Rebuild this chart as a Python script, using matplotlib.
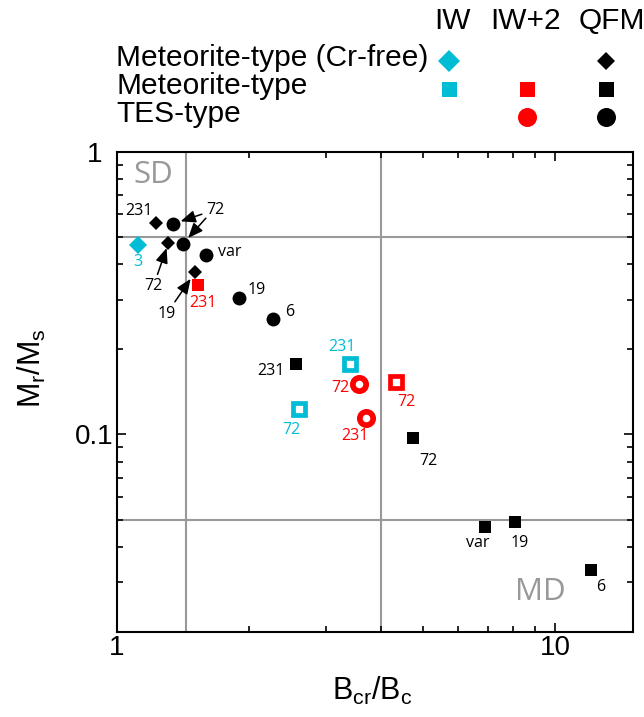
import numpy as np
import matplotlib
matplotlib.use("Agg")
import matplotlib.pyplot as plt

# ---- data ----
# Meteorite-type, Cr-free, IW  (cyan diamond)
crfree_iw_x = [1.12]
crfree_iw_y = [0.466]
crfree_iw_lab = ["3"]
# Meteorite-type, Cr-free, QFM  (black diamonds)
crfree_qfm_x = [1.228, 1.31, 1.507]
crfree_qfm_y = [0.559, 0.475, 0.374]
crfree_qfm_lab = ["231", "72", "19"]
# Meteorite-type, IW+2  (red squares)
met_iw2_x = [1.533]
met_iw2_y = [0.338]
met_iw2_lab = ["231"]
# Meteorite-type, QFM  (black squares)
met_qfm_x = [2.56, 4.74, 6.90, 8.08, 12.08]
met_qfm_y = [0.178, 0.0968, 0.0469, 0.0488, 0.0332]
met_qfm_lab = ["231", "72", "var", "19", "6"]
# TES-type, QFM  (black circles)
tes_qfm_x = [1.345, 1.413, 1.60, 1.90, 2.27]
tes_qfm_y = [0.556, 0.471, 0.432, 0.304, 0.257]
tes_qfm_lab = ["72", "72", "var", "19", "6"]
# open symbols
open_iw_x = [3.40, 2.60]
open_iw_y = [0.178, 0.1225]
open_iw_lab = ["231", "72"]
open_iw2_sq_x = [4.34]
open_iw2_sq_y = [0.153]
open_iw2_sq_lab = ["72"]
open_iw2_ci_x = [3.57, 3.69]
open_iw2_ci_y = [0.151, 0.1145]
open_iw2_ci_lab = ["72", "231"]

# Day-plot domain boundaries
bcr_lines = [1.44, 4.0]
mr_lines = [0.5, 0.05]

legend_cols = ["IW", "IW+2", "QFM"]
legend_rows = ["Meteorite-type (Cr-free)", "Meteorite-type", "TES-type"]

# ---- style ----
CYAN = "#00BCD4"
RED = "#FF0000"
GRAY = "#999999"
SANS = "Liberation Sans"
LABF = "Open Sans"

plt.rcParams["font.family"] = SANS
plt.rcParams["mathtext.fontset"] = "custom"
plt.rcParams["mathtext.rm"] = SANS
plt.rcParams["mathtext.default"] = "regular"

fig = plt.figure(figsize=(6.44, 7.17), dpi=100)
ax = fig.add_axes([116.9 / 644, 1 - 632 / 717, 515.8 / 644, 480.3 / 717])
ax.set_xscale("log")
ax.set_yscale("log")
ax.set_xlim(1, 15)
ax.set_ylim(0.02, 1)

for v in bcr_lines:
    ax.axvline(v, color=GRAY, lw=1.5, zorder=1)
for h in mr_lines:
    ax.axhline(h, color=GRAY, lw=1.5, zorder=1)

ax.plot(crfree_iw_x, crfree_iw_y, "D", color=CYAN, ms=8.8, mew=0, zorder=3)
ax.plot(crfree_qfm_x, crfree_qfm_y, "D", color="k", ms=6.9, mew=0, zorder=3)
ax.plot(met_iw2_x, met_iw2_y, "s", color=RED, ms=9.1, mew=0, zorder=3)
ax.plot(met_qfm_x, met_qfm_y, "s", color="k", ms=8.8, mew=0, zorder=3)
ax.plot(tes_qfm_x, tes_qfm_y, "o", color="k", ms=10, mew=0, zorder=3)
ax.plot(open_iw_x, open_iw_y, "s", mfc="white", mec=CYAN, ms=8, mew=3.4, zorder=3)
ax.plot(open_iw2_sq_x, open_iw2_sq_y, "s", mfc="white", mec=RED, ms=8, mew=3.4, zorder=3)
ax.plot(open_iw2_ci_x, open_iw2_ci_y, "o", mfc="white", mec=RED, ms=9.6, mew=4.1, zorder=3)

# label offsets in pixels (right, down) from each point
# arrows: (series, index) -> (shrinkB, show text)
ARROWS = {("tes", 0): (5.5, True), ("tes", 1): (5.9, False),
          ("crq", 1): (3.8, True), ("crq", 2): (5.6, True)}


def put_labels(key, xs, ys, labs, offs, color):
    for i, (x, y, t, (dx, dy)) in enumerate(zip(xs, ys, labs, offs)):
        kw = {}
        if (key, i) in ARROWS:
            shrink, show = ARROWS[(key, i)]
            kw["arrowprops"] = dict(arrowstyle="-|>,head_length=0.6,head_width=0.25",
                                    color="k", lw=1.1, shrinkA=1, shrinkB=shrink,
                                    mutation_scale=15)
            if not show:
                t = ""
        ax.annotate(t, (x, y), xytext=(dx * 0.72, -dy * 0.72), textcoords="offset points",
                    ha="center", va="center", color=color, fontsize=11.5,
                    family=LABF, zorder=4, **kw)


put_labels("cri", crfree_iw_x, crfree_iw_y, crfree_iw_lab, [(-1, 17)], CYAN)
put_labels("crq", crfree_qfm_x, crfree_qfm_y, crfree_qfm_lab,
           [(-16.7, -12.6), (-15, 43.4), (-28.3, 41.3)], "k")
put_labels("mi2", met_iw2_x, met_iw2_y, met_iw2_lab, [(4.4, 17.7)], RED)
put_labels("mq", met_qfm_x, met_qfm_y, met_qfm_lab,
           [(-25, 7.4), (15, 22.7), (-6.7, 15.7), (5, 20.7), (9.3, 17.6)], "k")
put_labels("tes", tes_qfm_x, tes_qfm_y, tes_qfm_lab,
           [(41.7, -14), (24, -27), (23.3, -2.3), (17.4, -8.3), (16.7, -6.7)], "k")
put_labels("oiw", open_iw_x, open_iw_y, open_iw_lab, [(-8.3, -17), (-7.6, 21)], CYAN)
put_labels("osq", open_iw2_sq_x, open_iw2_sq_y, open_iw2_sq_lab, [(10, 19.4)], RED)
put_labels("oci", open_iw2_ci_x, open_iw2_ci_y, open_iw2_ci_lab, [(-19.3, 3.7), (-10.7, 18.4)], RED)

ax.text(0.0706, 0.9515, "SD", transform=ax.transAxes, color=GRAY, fontsize=22.5,
        family=LABF, ha="center", va="center")
ax.text(0.8216, 0.0839, "MD", transform=ax.transAxes, color=GRAY, fontsize=22.5,
        family=LABF, ha="center", va="center")

for s in ax.spines.values():
    s.set_linewidth(1.5)
ax.tick_params(which="both", direction="in", top=True, right=True, width=1.2,
               labelsize=20)
ax.tick_params(which="major", length=6.5)
ax.tick_params(which="minor", length=4.3)
ax.tick_params(axis="x", pad=2)
ax.tick_params(axis="y", pad=16)
ax.xaxis.set_minor_formatter(plt.NullFormatter())
ax.yaxis.set_minor_formatter(plt.NullFormatter())
ax.xaxis.set_major_formatter(plt.FuncFormatter(lambda v, p: f"{v:g}"))
ax.yaxis.set_major_formatter(plt.FuncFormatter(lambda v, p: f"{v:g}"))
for lab in ax.get_yticklabels():
    lab.set_horizontalalignment("center")

ax.set_xlabel(r"B$_{cr}$/B$_c$", fontsize=22, va="center")
ax.xaxis.set_label_coords(0.4946, -0.123)
ax.set_ylabel(r"M$_r$/M$_s$", fontsize=22, va="center")
ax.yaxis.set_label_coords(-0.165, 0.55)

# ---- legend table ----
lg = fig.add_axes([400 / 644, 1 - 135 / 717, 244 / 644, 95 / 717])
lg.set_xlim(-0.624, 2.484)
lg.set_ylim(2.629, -0.746)
lg.axis("off")
legend_marks = [  # (col, row, marker, color, size)
    (0, 0, "D", CYAN, 11.0), (2, 0, "D", "k", 9.2),
    (0, 1, "s", CYAN, 10.8), (1, 1, "s", RED, 10.8), (2, 1, "s", "k", 10.8),
    (1, 2, "o", RED, 13.7), (2, 2, "o", "k", 13.7),
]
for c, r, m, col, sz in legend_marks:
    lg.plot([c], [r], m, color=col, ms=sz, mew=0, clip_on=False)
for c, (name, nudge) in enumerate(zip(legend_cols, [0.04, -0.02, 0.08])):
    lg.text(c + nudge, -1.42, name, ha="center", va="center", fontsize=21.5)
for r, name in enumerate(legend_rows):
    lg.text(-4.241, r - 0.1, name, ha="left", va="center", fontsize=21.5, clip_on=False)

fig.savefig("out.png", dpi=100)
